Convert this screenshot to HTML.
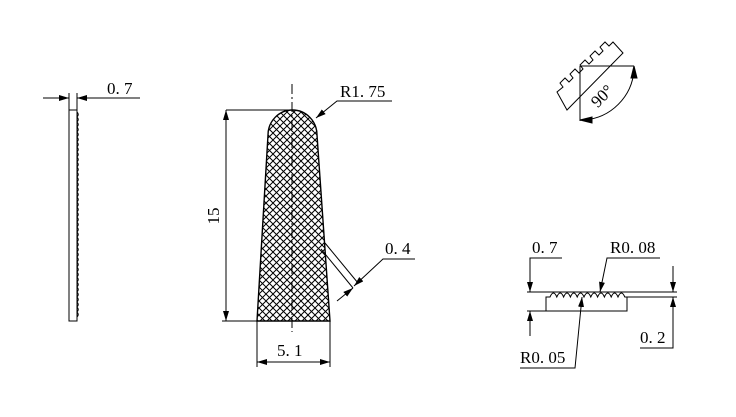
<!DOCTYPE html>
<html><head><meta charset="utf-8"><style>body{margin:0;background:#fff}</style></head><body>
<svg width="736" height="412" viewBox="0 0 736 412" xmlns="http://www.w3.org/2000/svg" font-family="Liberation Serif, serif" font-size="17">
<defs>
<pattern id="h" width="7" height="7" patternUnits="userSpaceOnUse">
<path d="M0 0L7 7M7 0L0 7" stroke="#000" stroke-width="1"/>
</pattern>
<marker id="a" markerWidth="10" markerHeight="6" refX="10" refY="3" orient="auto" markerUnits="userSpaceOnUse"><path d="M0 0L10 3L0 6z"/></marker>
</defs>
<g stroke="#000" stroke-width="1" fill="none">
<rect x="69" y="110" width="8" height="211"/>
<path d="M77 112 q2.5 2.5 0 5 q2.5 2.5 0 5 q2.5 2.5 0 5 q2.5 2.5 0 5 q2.5 2.5 0 5 q2.5 2.5 0 5 q2.5 2.5 0 5 q2.5 2.5 0 5 q2.5 2.5 0 5 q2.5 2.5 0 5 q2.5 2.5 0 5 q2.5 2.5 0 5 q2.5 2.5 0 5 q2.5 2.5 0 5 q2.5 2.5 0 5 q2.5 2.5 0 5 q2.5 2.5 0 5 q2.5 2.5 0 5 q2.5 2.5 0 5 q2.5 2.5 0 5 q2.5 2.5 0 5 q2.5 2.5 0 5 q2.5 2.5 0 5 q2.5 2.5 0 5 q2.5 2.5 0 5 q2.5 2.5 0 5 q2.5 2.5 0 5 q2.5 2.5 0 5 q2.5 2.5 0 5 q2.5 2.5 0 5 q2.5 2.5 0 5 q2.5 2.5 0 5 q2.5 2.5 0 5 q2.5 2.5 0 5 q2.5 2.5 0 5 q2.5 2.5 0 5 q2.5 2.5 0 5 q2.5 2.5 0 5 q2.5 2.5 0 5 q2.5 2.5 0 5 q2.5 2.5 0 5"/>
<line x1="69" y1="93" x2="69" y2="110"/><line x1="77" y1="93" x2="77" y2="110"/>
<line x1="43" y1="98" x2="69" y2="98" marker-end="url(#a)"/>
<line x1="140" y1="98" x2="77" y2="98" marker-end="url(#a)"/>
<path d="M257 321 L268 135 A24.5 25 0 0 1 317 135 L330 321 Z" fill="url(#h)" stroke-width="1.4"/>
<line x1="292" y1="84" x2="292" y2="332" stroke-dasharray="10,3,2,3"/>
<line x1="226" y1="110" x2="292" y2="110"/>
<line x1="222" y1="321" x2="257" y2="321"/>
<line x1="226" y1="215" x2="226" y2="110" marker-end="url(#a)"/>
<line x1="226" y1="215" x2="226" y2="321" marker-end="url(#a)"/>
<line x1="257" y1="321" x2="257" y2="367"/><line x1="330" y1="321" x2="330" y2="367"/>
<line x1="293" y1="362" x2="257" y2="362" marker-end="url(#a)"/>
<line x1="293" y1="362" x2="330" y2="362" marker-end="url(#a)"/>
<path d="M392 101 L337 101 L316 118" marker-end="url(#a)"/>
<line x1="325" y1="243" x2="358" y2="283"/>
<line x1="321" y1="249" x2="353" y2="288"/>
<path d="M415 259 L383 259 L354 286" marker-end="url(#a)"/>
<line x1="337" y1="301" x2="353" y2="288" marker-end="url(#a)"/>
<path d="M567 110 L623 53 L613 42 L609 46 L605 42 L600 47 L603 51 L599 55 L595 51 L590 56 L593 60 L589 64 L585 60 L580 65 L583 69 L579 73 L575 69 L570 74 L573 78 L569 82 L565 78 L560 83 L563 87 L557 92 Z"/>
<line x1="580" y1="66" x2="580" y2="121"/>
<line x1="580" y1="66" x2="634" y2="66"/>
<path d="M634 70 A54 54 0 0 1 584 120"/>
<path d="M634 66 l-3 12 l6 0z" fill="#000"/>
<path d="M580 120 l12 -3 l0 6z" fill="#000"/>
<line x1="527" y1="292" x2="677" y2="292"/>
<line x1="627" y1="297" x2="677" y2="297"/>
<path d="M546 311 L546 297 L550 297 q3.4 -8 6.8 0 q3.4 -8 6.8 0 q3.4 -8 6.8 0 q3.4 -8 6.8 0 q3.4 -8 6.8 0 q3.4 -8 6.8 0 q3.4 -8 6.8 0 q3.4 -8 6.8 0 q3.4 -8 6.8 0 q3.4 -8 6.8 0 q3.4 -8 6.8 0 L627 297 L627 311 Z"/>
<line x1="527" y1="311" x2="546" y2="311"/>
<path d="M562 258 L530 258 L530 292" marker-end="url(#a)"/>
<line x1="530" y1="336" x2="530" y2="311" marker-end="url(#a)"/>
<path d="M660 258 L607 258 L600 292" marker-end="url(#a)"/>
<path d="M520 368 L575 368 L582 297" marker-end="url(#a)"/>
<line x1="673" y1="266" x2="673" y2="292" marker-end="url(#a)"/>
<path d="M640 348 L673 348 L673 297" marker-end="url(#a)"/>
</g>
<g fill="#000">
<text x="107" y="94">0. 7</text>
<text x="340" y="97">R1. 75</text>
<text x="385" y="254">0. 4</text>
<text x="277" y="356">5. 1</text>
<text transform="translate(219 216) rotate(-90)" text-anchor="middle">15</text>
<text transform="translate(606 100) rotate(-45)" text-anchor="middle">90°</text>
<text x="532" y="253">0. 7</text>
<text x="610" y="253">R0. 08</text>
<text x="520" y="363">R0. 05</text>
<text x="640" y="343">0. 2</text>
</g>
</svg>
</body></html>
